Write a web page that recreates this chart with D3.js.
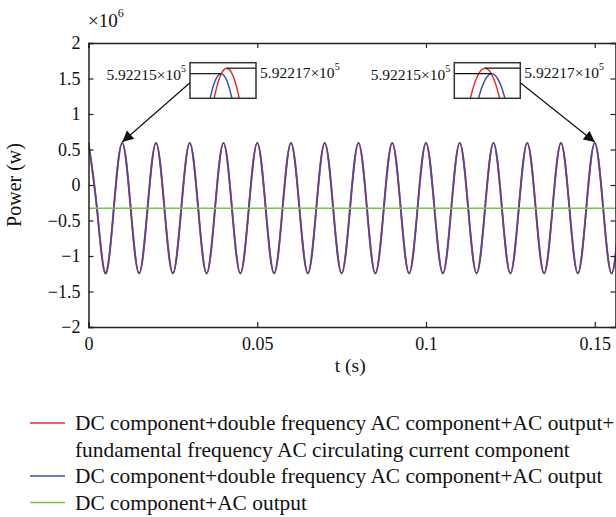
<!DOCTYPE html>
<html><head><meta charset="utf-8">
<script src="https://cdn.jsdelivr.net/npm/d3@7"></script>
<style>
html,body{margin:0;padding:0;background:#fff;}
svg{display:block;font-family:"Liberation Serif","Times New Roman",serif;}
</style></head>
<body>
<svg id="chart" width="616" height="517"></svg>
<script>
// ---------- data ----------
const tSamples = [0,0.0025,0.005,0.0075,0.01,0.0125,0.015,0.0175,0.02,0.0225,0.025,0.0275,0.03,0.0325,0.035,0.0375,0.04,0.0425,0.045,0.0475,0.05,0.0525,0.055,0.0575,0.06,0.0625,0.065,0.0675,0.07,0.0725,0.075,0.0775,0.08,0.0825,0.085,0.0875,0.09,0.0925,0.095,0.0975,0.1,0.1025,0.105,0.1075,0.11,0.1125,0.115,0.1175,0.12,0.1225,0.125,0.1275,0.13,0.1325,0.135,0.1375,0.14,0.1425,0.145,0.1475,0.15,0.1525,0.155,0.1575];
// power in units of 1e6 W
const redPower = [0.592,-0.3265,-1.245,-0.3265,0.592,-0.3265,-1.245,-0.3265,0.592,-0.3265,-1.245,-0.3265,0.592,-0.3265,-1.245,-0.3265,0.592,-0.3265,-1.245,-0.3265,0.592,-0.3265,-1.245,-0.3265,0.592,-0.3265,-1.245,-0.3265,0.592,-0.3265,-1.245,-0.3265,0.592,-0.3265,-1.245,-0.3265,0.592,-0.3265,-1.245,-0.3265,0.592,-0.3265,-1.245,-0.3265,0.592,-0.3265,-1.245,-0.3265,0.592,-0.3265,-1.245,-0.3265,0.592,-0.3265,-1.245,-0.3265,0.592,-0.3265,-1.245,-0.3265,0.592,-0.3265,-1.245,-0.3265];
const bluePower = [0.592,-0.3265,-1.245,-0.3265,0.592,-0.3265,-1.245,-0.3265,0.592,-0.3265,-1.245,-0.3265,0.592,-0.3265,-1.245,-0.3265,0.592,-0.3265,-1.245,-0.3265,0.592,-0.3265,-1.245,-0.3265,0.592,-0.3265,-1.245,-0.3265,0.592,-0.3265,-1.245,-0.3265,0.592,-0.3265,-1.245,-0.3265,0.592,-0.3265,-1.245,-0.3265,0.592,-0.3265,-1.245,-0.3265,0.592,-0.3265,-1.245,-0.3265,0.592,-0.3265,-1.245,-0.3265,0.592,-0.3265,-1.245,-0.3265,0.592,-0.3265,-1.245,-0.3265,0.592,-0.3265,-1.245,-0.3265];
const greenT = [0, 0.1575];
const greenPower = [-0.327, -0.327];

const xTicks = [0, 0.05, 0.1, 0.15];
const xTickLabels = ["0", "0.05", "0.1", "0.15"];
const yTicks = [2, 1.5, 1, 0.5, 0, -0.5, -1, -1.5, -2];
const yTickLabels = ["2", "1.5", "1", "0.5", "0", "\u22120.5", "\u22121", "\u22121.5", "\u22122"];

// zoom insets (x as fraction of inset width, y in units of 1e5)
const insetRefValues = [5.92215, 5.92217];
const insetRefLabels = ["5.92215\u00d710", "5.92217\u00d710"];
const insetExp = "5";
const leftInsetBlueX = [0.305,0.346,0.388,0.429,0.47,0.511,0.553,0.594,0.635];
const leftInsetRedX  = [0.366,0.4135,0.461,0.5085,0.556,0.6035,0.651,0.6985,0.746];
const rightInsetRedX = [0.243,0.2985,0.354,0.4095,0.465,0.5205,0.576,0.6315,0.687];
const rightInsetBlueX= [0.367,0.417,0.467,0.517,0.567,0.617,0.667,0.717,0.767];
const insetBlueVals = [5.92206,5.922099,5.9221275,5.9221444,5.92215,5.9221444,5.9221275,5.922099,5.92206];
const insetRedVals  = [5.92206,5.9221081,5.9221425,5.9221631,5.92217,5.9221631,5.9221425,5.9221081,5.92206];
const insetPeakT = [0.01, 0.15];

const legendLabels = [
  ["DC component+double frequency AC component+AC output+", "fundamental frequency AC circulating current component"],
  ["DC component+double frequency AC component+AC output"],
  ["DC component+AC output"]
];

// ---------- styling / layout ----------
const RED = "#ee2a2a", BLUE = "#3a50a8", GREEN = "#74c654", AX = "#222";
const L = 88.5, R = 616, T = 43, B = 327;

const svg = d3.select("#chart");
const x = d3.scaleLinear().domain([0, 0.1563]).range([L, R]);
const y = d3.scaleLinear().domain([-2, 2]).range([B, T]);

svg.append("defs").append("clipPath").attr("id","clip")
  .append("rect").attr("x",L).attr("y",T).attr("width",R-L).attr("height",B-T);
const marker = svg.select("defs").append("marker").attr("id","arrow")
  .attr("viewBox","0 0 10 10").attr("refX",10).attr("refY",5)
  .attr("markerWidth",13).attr("markerHeight",11).attr("markerUnits","userSpaceOnUse")
  .attr("orient","auto");
marker.append("path").attr("d","M0,0 L10,5 L0,10 z").attr("fill","#111");

// series
const plot = svg.append("g").attr("clip-path","url(#clip)");
const line = d3.line().x(d=>x(d[0])).y(d=>y(d[1])).curve(d3.curveNatural);
plot.append("path").datum(tSamples.map((t,i)=>[t,redPower[i]]))
  .attr("d",line).attr("fill","none").attr("stroke",RED).attr("stroke-width",2);
plot.append("path").datum(tSamples.map((t,i)=>[t,bluePower[i]]))
  .attr("d",line).attr("fill","none").attr("stroke",BLUE).attr("stroke-width",1.5);
plot.append("path").datum(greenT.map((t,i)=>[t,greenPower[i]]))
  .attr("d",d3.line().x(d=>x(d[0])).y(d=>y(d[1]))).attr("fill","none").attr("stroke",GREEN).attr("stroke-width",1.6);

// axes
const tickLen = 5;
const axB = svg.append("g").attr("transform",`translate(0,${B})`)
  .call(d3.axisBottom(x).tickValues(xTicks).tickFormat((d,i)=>xTickLabels[i]).tickSize(-tickLen).tickPadding(10));
const axT = svg.append("g").attr("transform",`translate(0,${T})`)
  .call(d3.axisTop(x).tickValues(xTicks).tickFormat("").tickSize(-tickLen));
const axL = svg.append("g").attr("transform",`translate(${L},0)`)
  .call(d3.axisLeft(y).tickValues(yTicks).tickFormat((d,i)=>yTickLabels[i]).tickSize(-tickLen).tickPadding(8));
const axR = svg.append("g").attr("transform",`translate(${R-0.5},0)`)
  .call(d3.axisRight(y).tickValues(yTicks).tickFormat("").tickSize(-tickLen));
[axB,axT,axL,axR].forEach(g=>{
  g.select(".domain").attr("stroke",AX).attr("stroke-width",1.5);
  g.selectAll(".tick line").attr("stroke",AX).attr("stroke-width",1.2);
  g.selectAll("text").attr("fill","#111").style("font-family",'"Liberation Serif",serif').style("font-size","18px");
});
axB.selectAll("text").attr("dy","0.71em");

// axis labels
svg.append("text").attr("x", (L+R)/2-2).attr("y",372).attr("text-anchor","middle")
  .style("font-size","19.5px").attr("fill","#111").text("t (s)");
svg.append("text").attr("transform",`translate(21,${(T+B)/2}) rotate(-90)`).attr("text-anchor","middle")
  .style("font-size","20px").attr("fill","#111").text("Power (w)");
const mult = svg.append("text").attr("x",88).attr("y",27).style("font-size","19px").attr("fill","#111");
mult.append("tspan").text("\u00d710");
mult.append("tspan").attr("dy",-10).style("font-size","12px").text("6");

// insets
const boxes = [
  {x0:190, redX:leftInsetRedX, blueX:leftInsetBlueX, corner:"left"},
  {x0:454.3, redX:rightInsetRedX, blueX:rightInsetBlueX, corner:"right"}
];
const boxW = 66, boxT = 62.7, boxH = 35.6;
boxes.forEach((bx,k)=>{
  const ix = d3.scaleLinear().domain([0,1]).range([bx.x0, bx.x0+boxW]);
  const iy = d3.scaleLinear().domain([5.92206, 5.92219]).range([boxT+boxH, boxT]);
  const g = svg.append("g");
  const il = d3.line().x(d=>ix(d[0])).y(d=>iy(d[1])).curve(d3.curveNatural);
  const cid = "iclip"+k;
  svg.select("defs").append("clipPath").attr("id",cid).append("rect")
    .attr("x",bx.x0).attr("y",boxT).attr("width",boxW).attr("height",boxH);
  const gi = g.append("g").attr("clip-path",`url(#${cid})`);
  gi.append("path").datum(bx.redX.map((v,i)=>[v,insetRedVals[i]])).attr("d",il)
    .attr("fill","none").attr("stroke",RED).attr("stroke-width",1.5);
  gi.append("path").datum(bx.blueX.map((v,i)=>[v,insetBlueVals[i]])).attr("d",il)
    .attr("fill","none").attr("stroke",BLUE).attr("stroke-width",1.5);
  // reference lines
  const bluePeakX = bx.blueX[4], redPeakX = bx.redX[4];
  g.append("line").attr("x1",ix(0)).attr("x2",ix(bluePeakX)).attr("y1",iy(insetRefValues[0])).attr("y2",iy(insetRefValues[0]))
    .attr("stroke","#111").attr("stroke-width",1.2);
  g.append("line").attr("x1",ix(redPeakX)).attr("x2",ix(1)).attr("y1",iy(insetRefValues[1])).attr("y2",iy(insetRefValues[1]))
    .attr("stroke","#111").attr("stroke-width",1.2);
  g.append("rect").attr("x",bx.x0).attr("y",boxT).attr("width",boxW).attr("height",boxH)
    .attr("fill","none").attr("stroke","#333").attr("stroke-width",1.5);
  // labels
  const lt = g.append("text").attr("x",bx.x0-4).attr("y",80).attr("text-anchor","end")
    .style("font-size","15.5px").attr("fill","#111");
  lt.append("tspan").text(insetRefLabels[0]);
  lt.append("tspan").attr("dy",-8).style("font-size","10px").text(insetExp);
  const rt = g.append("text").attr("x",bx.x0+boxW+4).attr("y",78).attr("text-anchor","start")
    .style("font-size","15.5px").attr("fill","#111");
  rt.append("tspan").text(insetRefLabels[1]);
  rt.append("tspan").attr("dy",-8).style("font-size","10px").text(insetExp);
  // arrow to the peak
  const sx = bx.corner==="left" ? bx.x0 : bx.x0+boxW;
  svg.append("line").attr("x1",sx).attr("y1",boxT+20).attr("x2",x(insetPeakT[k])).attr("y2",y(bluePower[0])-1)
    .attr("stroke","#111").attr("stroke-width",1.2).attr("marker-end","url(#arrow)");
});

// legend
const legTop = 423, legStep = 26.5;
let row = 0;
const legColors = [RED, BLUE, GREEN];
legendLabels.forEach((lines,i)=>{
  const yy = legTop + row*legStep;
  svg.append("line").attr("x1",30).attr("x2",65).attr("y1",yy).attr("y2",yy)
    .attr("stroke",legColors[i]).attr("stroke-width",1.5);
  lines.forEach((s,j)=>{
    svg.append("text").attr("x",75).attr("y",yy + j*legStep).attr("dy","0.35em")
      .style("font-size","21.4px").attr("fill","#111").text(s);
  });
  row += lines.length;
});
</script>
</body></html>
